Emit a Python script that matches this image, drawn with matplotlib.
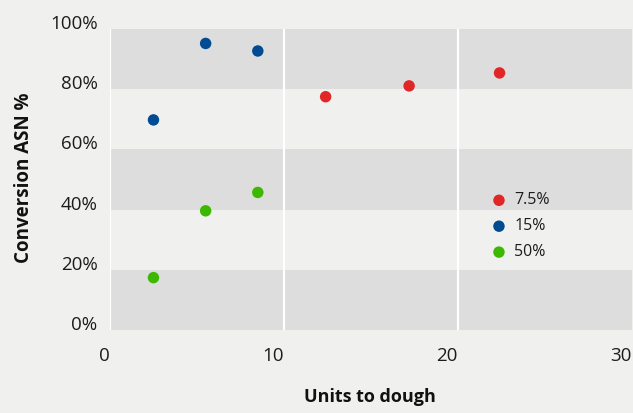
import matplotlib
matplotlib.use("Agg")
import matplotlib.pyplot as plt

# Series: units added to dough vs. conversion of ASN (%)
series_names = ["7.5%", "15%", "50%"]
red_x = [12.4, 17.2, 22.4]
red_y = [77.5, 81.1, 85.4]
blue_x = [2.5, 5.5, 8.5]
blue_y = [69.8, 95.2, 92.7]
green_x = [2.5, 5.5, 8.5]
green_y = [17.4, 39.6, 45.7]

x_ticks = [0, 10, 20, 30]
x_tick_labels = ["0", "10", "20", "30"]
y_ticks = [0, 20, 40, 60, 80, 100]
y_tick_labels = ["0%", "20%", "40%", "60%", "80%", "100%"]

colors = ["#e02626", "#004b91", "#3db800"]
bg = "#f0f0ef"
band = "#dddddd"

plt.rcParams["font.family"] = ["Open Sans", "DejaVu Sans"]

W, H = 633, 413
fig = plt.figure(figsize=(W / 100, H / 100), dpi=100, facecolor=bg)
ax = fig.add_axes([110 / W, (H - 330) / H, 521.7 / W, 301 / H])
ax.set_facecolor(bg)
ax.set_xlim(0, 30)
ax.set_ylim(0, 100)

# alternating horizontal bands
for lo in (0, 40, 80):
    ax.axhspan(lo, lo + 20, color=band, lw=0, zorder=0)
# white vertical grid lines
for xv in (0, 10, 20):
    ax.axvline(xv, color="white", lw=1.6, zorder=1)

for xs, ys, c, name in zip([red_x, blue_x, green_x], [red_y, blue_y, green_y],
                           colors, series_names):
    ax.scatter(xs, ys, s=68, color=c, edgecolors="none", zorder=3, label=name)

for s in ax.spines.values():
    s.set_visible(False)

ax.set_xticks(x_ticks)
ax.set_xticklabels(x_tick_labels, ha="right")
ax.set_yticks(y_ticks)
ax.set_yticklabels(y_tick_labels, va="baseline")
ax.tick_params(axis="both", length=0, labelsize=13.5, labelcolor="#1c1c1c")
ax.tick_params(axis="x", pad=12)
ax.tick_params(axis="y", pad=9)

fig.text(370 / W, 1 - 397 / H, "Units to dough", ha="center", va="center",
         fontsize=13, fontweight="bold", color="#111111")
fig.text(24 / W, 1 - 178 / H, "Conversion ASN %", ha="center", va="center",
         rotation=90, fontsize=13.5, fontweight="bold", color="#111111")

leg = ax.legend(loc="upper left", bbox_to_anchor=(479 / W, 1 - 184.5 / H),
                bbox_transform=fig.transFigure, frameon=False, fontsize=11.5,
                handletextpad=0.2, labelspacing=0.62, borderpad=0,
                handlelength=1.5, markerscale=1.0)
for t in leg.get_texts():
    t.set_color("#1c1c1c")

fig.savefig("out.png", dpi=100, facecolor=bg)
